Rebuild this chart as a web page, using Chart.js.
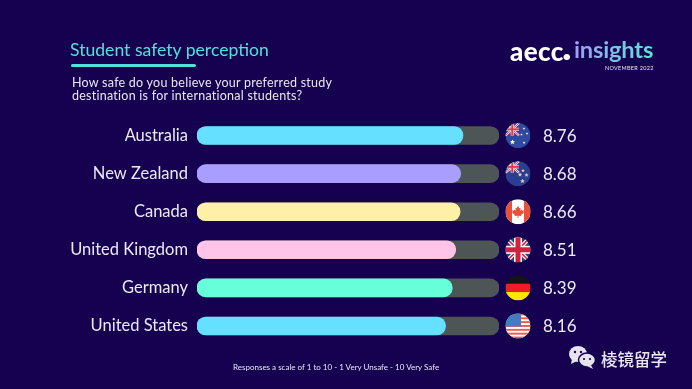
<!DOCTYPE html>
<html lang="en">
<head>
    <meta charset="UTF-8">
    <title>Student safety perception</title>
    <script src="https://cdn.jsdelivr.net/npm/chart.js"></script>
    <style>
        html, body {
            margin: 0;
            padding: 0;
            background: #160050;
            overflow: hidden;
        }
        #page {
            position: relative;
            width: 692px;
            height: 389px;
            font-family: Lato, sans-serif;
            color: #e9e6f5;
        }
        canvas {
            position: absolute;
            left: 0;
            top: 0;
        }
        .txt {
            position: absolute;
            white-space: nowrap;
        }
        #title {
            left: 70px;
            top: 39px;
            font-size: 17.6px;
            color: #4fe3d8;
        }
        #rule {
            position: absolute;
            left: 71px;
            top: 64px;
            width: 125px;
            height: 3px;
            border-radius: 2px;
            background: #4fe3d8;
        }
        #question {
            left: 72px;
            top: 76px;
            font-size: 12.5px;
            line-height: 13px;
            letter-spacing: 0.25px;
        }
        #logo-a {
            left: 510px;
            top: 35px;
            font-size: 26px;
            font-weight: 900;
            letter-spacing: 0.4px;
            color: #ffffff;
        }
        #logo-a span {
            font-size: 14px;
            margin-left: -1px;
        }
        #logo-b {
            left: 574px;
            top: 35px;
            font-size: 23.7px;
            font-weight: 700;
            letter-spacing: -0.2px;
            background: linear-gradient(90deg, #a39cf5, #55e8d0);
            -webkit-background-clip: text;
            background-clip: text;
            color: transparent;
        }
        #logo-date {
            left: 605px;
            top: 65px;
            font-size: 5.5px;
            letter-spacing: 0.3px;
        }
        #footer {
            left: 233px;
            top: 362px;
            font-size: 8px;
        }
        #mark {
            left: 601px;
            top: 347px;
            font-family: "Noto Sans CJK SC", sans-serif;
            font-size: 16.5px;
            font-weight: 500;
        }
        #mark-icon {
            position: absolute;
            left: 568px;
            top: 345px;
        }
    </style>
</head>
<body>
    <div id="page">
        <canvas id="chart" width="692" height="389"></canvas>
        <div class="txt" id="title">Student safety perception</div>
        <div id="rule"></div>
        <div class="txt" id="question">How safe do you believe your preferred study<br>destination is for international students?</div>
        <div class="txt" id="logo-a">aecc<span>•</span></div>
        <div class="txt" id="logo-b">insights</div>
        <div class="txt" id="logo-date">NOVEMBER 2022</div>
        <div class="txt" id="footer">Responses a scale of 1 to 10 - 1 Very Unsafe - 10 Very Safe</div>
        <svg id="mark-icon" width="28" height="24" viewBox="0 0 28 24">
            <ellipse cx="10" cy="9" rx="9" ry="8" fill="#e6e2ee"/>
            <path d="M4 14 L3 19 L9 16 Z" fill="#e6e2ee"/>
            <ellipse cx="19" cy="15" rx="8.5" ry="7" fill="#e6e2ee" stroke="#160050" stroke-width="1.5"/>
            <path d="M23 20 L25 24 L19 21 Z" fill="#e6e2ee"/>
            <circle cx="7" cy="7" r="1.2" fill="#160050"/>
            <circle cx="13" cy="7" r="1.2" fill="#160050"/>
            <circle cx="16" cy="14" r="1.1" fill="#160050"/>
            <circle cx="22" cy="14" r="1.1" fill="#160050"/>
        </svg>
        <div class="txt" id="mark">棱镜留学</div>
    </div>

    <script>
        const categories = ['Australia', 'New Zealand', 'Canada', 'United Kingdom', 'Germany', 'United States'];
        const scores = [8.76, 8.68, 8.66, 8.51, 8.39, 8.16];
        const trackValues = [10, 10, 10, 10, 10, 10];
        const barColors = ['#66e0ff', '#a99dff', '#fff0a8', '#ffc4e8', '#66ffd9', '#66e0ff'];
        const flags = ['au', 'nz', 'ca', 'uk', 'de', 'us'];

        function star(ctx, x, y, r, color) {
            ctx.fillStyle = color;
            ctx.beginPath();
            for (let i = 0; i < 10; i++) {
                const a = -Math.PI / 2 + i * Math.PI / 5;
                const d = i % 2 ? r * 0.45 : r;
                ctx.lineTo(x + Math.cos(a) * d, y + Math.sin(a) * d);
            }
            ctx.closePath();
            ctx.fill();
        }

        function mapleLeaf(ctx, color) {
            const leaf = [[0, -6], [1.4, -3.4], [2.6, -4], [2.1, -0.9], [3.6, -2.3], [4, -1.1], [6, -1.4], [5.3, 0.6],
                [6, 1.1], [3, 3.4], [3.4, 4.4], [0.4, 4], [0.4, 6.2], [-0.4, 6.2], [-0.4, 4], [-3.4, 4.4], [-3, 3.4],
                [-6, 1.1], [-5.3, 0.6], [-6, -1.4], [-4, -1.1], [-3.6, -2.3], [-2.1, -0.9], [-2.6, -4], [-1.4, -3.4]];
            ctx.fillStyle = color;
            ctx.beginPath();
            leaf.forEach(p => ctx.lineTo(p[0], p[1]));
            ctx.closePath();
            ctx.fill();
        }

        function miniUnion(ctx, x, y, w, h) {
            ctx.fillStyle = '#2b4a9c';
            ctx.fillRect(x, y, w, h);
            ctx.strokeStyle = '#ffffff';
            ctx.lineWidth = 2;
            ctx.beginPath();
            ctx.moveTo(x, y); ctx.lineTo(x + w, y + h);
            ctx.moveTo(x + w, y); ctx.lineTo(x, y + h);
            ctx.stroke();
            ctx.strokeStyle = '#e8344a';
            ctx.lineWidth = 1;
            ctx.stroke();
            ctx.fillStyle = '#ffffff';
            ctx.fillRect(x + w / 2 - 1.5, y, 3, h);
            ctx.fillRect(x, y + h / 2 - 1.5, w, 3);
            ctx.fillStyle = '#e8344a';
            ctx.fillRect(x + w / 2 - 1, y, 2, h);
            ctx.fillRect(x, y + h / 2 - 1, w, 2);
        }

        const flagPainters = {
            au(ctx, r) {
                ctx.fillStyle = '#2f4a9e';
                ctx.fillRect(-r, -r, 2 * r, 2 * r);
                miniUnion(ctx, -r, -r, r + 1, r);
                star(ctx, -5.5, 6.5, 2.6, '#ffffff');
                star(ctx, 6, -7, 1.3, '#ffffff');
                star(ctx, 9, -2, 1.3, '#ffffff');
                star(ctx, 3.5, -1, 1.3, '#ffffff');
                star(ctx, 6, 7, 1.4, '#ffffff');
            },
            nz(ctx, r) {
                ctx.fillStyle = '#2a3f8f';
                ctx.fillRect(-r, -r, 2 * r, 2 * r);
                miniUnion(ctx, -r, -r, r + 1, r - 1);
                star(ctx, 2, 1, 2.3, '#f3c2c6');
                star(ctx, 5, -3, 2, '#f3c2c6');
                star(ctx, 8.5, 1.5, 2.1, '#f3c2c6');
                star(ctx, 4.5, 7.5, 2.4, '#f3c2c6');
            },
            ca(ctx, r) {
                ctx.fillStyle = '#ffffff';
                ctx.fillRect(-r, -r, 2 * r, 2 * r);
                ctx.fillStyle = '#e8503a';
                ctx.fillRect(-r, -r, 6.5, 2 * r);
                ctx.fillRect(r - 6.5, -r, 6.5, 2 * r);
                mapleLeaf(ctx, '#e8503a');
            },
            uk(ctx, r) {
                ctx.fillStyle = '#2b3f7d';
                ctx.fillRect(-r, -r, 2 * r, 2 * r);
                ctx.strokeStyle = '#ffffff';
                ctx.lineWidth = 4;
                ctx.beginPath();
                ctx.moveTo(-r, -r); ctx.lineTo(r, r);
                ctx.moveTo(r, -r); ctx.lineTo(-r, r);
                ctx.stroke();
                ctx.strokeStyle = '#d0223c';
                ctx.lineWidth = 1.6;
                ctx.stroke();
                ctx.fillStyle = '#ffffff';
                ctx.fillRect(-4, -r, 8, 2 * r);
                ctx.fillRect(-r, -4, 2 * r, 8);
                ctx.fillStyle = '#d0223c';
                ctx.fillRect(-2.5, -r, 5, 2 * r);
                ctx.fillRect(-r, -2.5, 2 * r, 5);
            },
            de(ctx, r) {
                ctx.fillStyle = '#141414';
                ctx.fillRect(-r, -r, 2 * r, 2 * r / 3 + 0.5);
                ctx.fillStyle = '#ee1c25';
                ctx.fillRect(-r, -r / 3, 2 * r, 2 * r / 3 + 0.5);
                ctx.fillStyle = '#ffe500';
                ctx.fillRect(-r, r / 3, 2 * r, 2 * r / 3);
            },
            us(ctx, r) {
                ctx.fillStyle = '#ffffff';
                ctx.fillRect(-r, -r, 2 * r, 2 * r);
                ctx.fillStyle = '#ee5a4c';
                for (let i = 0; i < 7; i++) {
                    ctx.fillRect(-r, -r + i * 3.85, 2 * r, 1.92);
                }
                ctx.fillStyle = '#3f7fc0';
                ctx.fillRect(-r, -r, r + 3, r + 0.5);
            }
        };

        // flags and score labels sit to the right of each track
        const rowExtras = {
            id: 'rowExtras',
            afterDatasetsDraw(chart) {
                const ctx = chart.ctx;
                const y = chart.scales.y;
                const r = 12.5;
                categories.forEach((name, i) => {
                    const cy = y.getPixelForValue(i);
                    ctx.save();
                    ctx.translate(518, cy);
                    ctx.beginPath();
                    ctx.arc(0, 0, r, 0, Math.PI * 2);
                    ctx.clip();
                    flagPainters[flags[i]](ctx, r);
                    ctx.restore();

                    ctx.save();
                    ctx.fillStyle = '#ece9f6';
                    ctx.font = '17px Lato, sans-serif';
                    ctx.textAlign = 'left';
                    ctx.textBaseline = 'middle';
                    ctx.fillText(scores[i].toFixed(2), 543, cy + 1);
                    ctx.restore();
                });
            }
        };

        new Chart(document.getElementById('chart').getContext('2d'), {
            type: 'bar',
            data: {
                labels: categories,
                datasets: [
                    {
                        data: scores,
                        base: -0.4,
                        backgroundColor: barColors,
                        order: 1
                    },
                    {
                        data: trackValues,
                        base: -0.4,
                        backgroundColor: '#4e5556',
                        order: 2
                    }
                ]
            },
            options: {
                indexAxis: 'y',
                responsive: false,
                animation: false,
                events: [],
                layout: {
                    padding: { top: 116.5, bottom: 44, left: 0, right: 193 }
                },
                datasets: {
                    bar: {
                        grouped: false,
                        barThickness: 18,
                        borderRadius: 9,
                        borderSkipped: false
                    }
                },
                plugins: {
                    legend: { display: false },
                    tooltip: { enabled: false }
                },
                scales: {
                    x: {
                        min: -0.4,
                        max: 10,
                        display: false
                    },
                    y: {
                        border: { display: false },
                        grid: { display: false },
                        afterFit(scale) {
                            scale.width = 197;
                        },
                        ticks: {
                            color: '#ece9f6',
                            padding: 1,
                            font: { family: 'Lato, sans-serif', size: 16.5 }
                        }
                    }
                }
            },
            plugins: [rowExtras]
        });
    </script>
</body>
</html>
